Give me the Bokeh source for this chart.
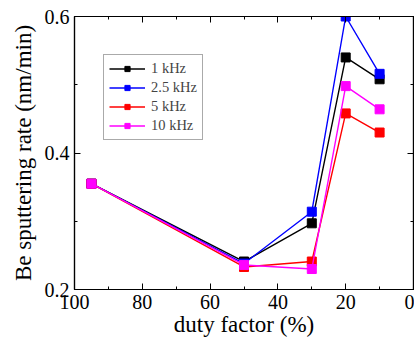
from bokeh.plotting import figure
from bokeh.models import Range1d, LinearAxis, FixedTicker, Legend, LegendItem
from bokeh.embed import file_html
from bokeh.resources import INLINE

duty = [95, 50, 30, 20, 10]
rate_1k = [0.355, 0.241, 0.297, 0.540, 0.508]
rate_2_5k = [0.355, 0.238, 0.314, 0.600, 0.516]
rate_5k = [0.355, 0.233, 0.241, 0.458, 0.430]
rate_10k = [0.355, 0.236, 0.230, 0.498, 0.464]
names = ["1 kHz", "2.5 kHz", "5 kHz", "10 kHz"]
colors = ["black", "blue", "red", "magenta"]
x_ticks = [0, 20, 40, 60, 80, 100]
y_ticks = [0.2, 0.4, 0.6]

FONT = "Liberation Serif"

p = figure(width=414, height=341, output_backend="svg", toolbar_location=None,
           x_range=Range1d(100, 0), y_range=Range1d(0.2, 0.6),
           min_border_left=74, min_border_right=1, min_border_top=16, min_border_bottom=52)
p.outline_line_color = "black"
p.outline_line_width = 1.2
p.xgrid.visible = False
p.ygrid.visible = False

def style(ax, labels=True):
    ax.axis_line_color = "black"
    ax.axis_line_width = 1.2
    ax.major_tick_in = 6
    ax.major_tick_out = 0
    ax.minor_tick_in = 3
    ax.minor_tick_out = 0
    ax.major_tick_line_color = "black"
    ax.minor_tick_line_color = "black"
    ax.major_label_text_font = FONT
    ax.major_label_text_font_size = "20px"
    ax.major_label_text_color = "black"
    ax.major_label_standoff = 5
    ax.axis_label_text_font = FONT
    ax.axis_label_text_font_size = "23px"
    ax.axis_label_text_font_style = "normal"
    ax.axis_label_text_color = "black"
    if not labels:
        ax.major_label_text_alpha = 0
        ax.major_label_text_font_size = "1px"
        ax.major_label_standoff = 0

p.xaxis.ticker = FixedTicker(ticks=x_ticks, minor_ticks=[10, 30, 50, 70, 90])
p.yaxis.ticker = FixedTicker(ticks=y_ticks, minor_ticks=[0.3, 0.5])
p.xaxis.axis_label = "duty factor (%)"
p.yaxis.axis_label = "Be sputtering rate (nm/min)"
style(p.xaxis[0])
style(p.yaxis[0])
p.xaxis.axis_label_standoff = 0
p.yaxis.axis_label_standoff = 6

top = LinearAxis(ticker=FixedTicker(ticks=x_ticks, minor_ticks=[10, 30, 50, 70, 90]))
right = LinearAxis(ticker=FixedTicker(ticks=y_ticks, minor_ticks=[0.3, 0.5]))
style(top, labels=False)
style(right, labels=False)
p.add_layout(top, "above")
p.add_layout(right, "right")

items = []
for vals, name, c in zip([rate_1k, rate_2_5k, rate_5k, rate_10k], names, colors):
    l = p.line(duty, vals, line_color=c, line_width=1.4)
    m = p.scatter(duty, vals, marker="square", size=9, fill_color=c, line_color=c)
    items.append(LegendItem(label=name, renderers=[l, m]))

leg = Legend(items=items, location=(29, 149))
leg.label_text_font = FONT
leg.label_text_font_size = "14.5px"
leg.label_height = 13
leg.glyph_height = 13
leg.glyph_width = 36
leg.spacing = 2
leg.padding = 5
leg.margin = 0
leg.label_standoff = 6
leg.border_line_color = "#555555"
leg.border_line_width = 1.2
leg.background_fill_alpha = 1
p.add_layout(leg, "center")

open("out.html", "w").write(file_html(p, INLINE))
